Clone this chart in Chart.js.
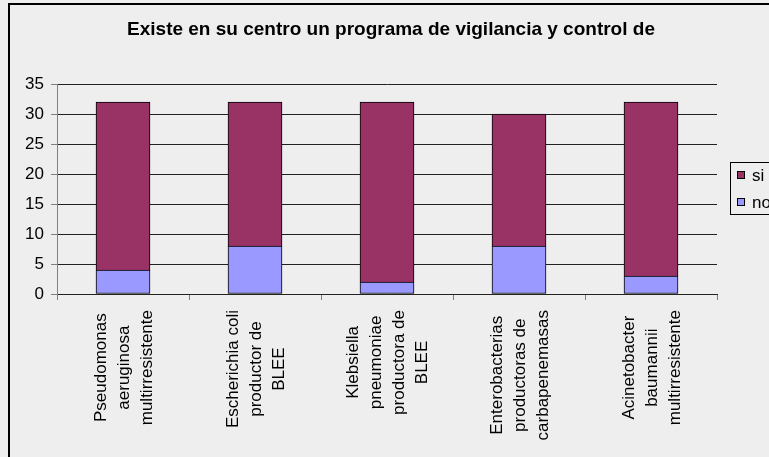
<!DOCTYPE html>
<html>
<head>
<meta charset="utf-8">
<script src="https://cdn.jsdelivr.net/npm/chart.js@4.4.1/dist/chart.umd.min.js"></script>
<style>
  html, body { margin: 0; padding: 0; background: #eeeeee; overflow: hidden; }
  #wrap { width: 769px; height: 457px; }
</style>
</head>
<body>
<div id="wrap"><canvas id="chart"></canvas></div>
<script>
const TITLE = "Existe en su centro un programa de vigilancia y control de";

// categorias (una linea por elemento)
const categories = [
    ["Pseudomonas", "aeruginosa", "multirresistente"],
    ["Escherichia coli", "productor de", "BLEE"],
    ["Klebsiella", "pneumoniae", "productora de", "BLEE"],
    ["Enterobacterias", "productoras de", "carbapenemasas"],
    ["Acinetobacter", "baumannii", "multirresistente"],
];
const noValues = [4, 8, 2, 8, 3];
const siValues = [28, 24, 30, 22, 29];
const yMin = 0, yMax = 35, yStep = 5;

const FONT = "Arial, 'Liberation Sans', sans-serif";

// fondo y marco del grafico
const framePlugin = {
    id: "frame",
    beforeDraw(chart) {
        const ctx = chart.ctx;
        ctx.save();
        ctx.fillStyle = "#eeeeee";
        ctx.fillRect(0, 0, chart.width, chart.height);
        ctx.strokeStyle = "#000";
        ctx.lineWidth = 2;
        ctx.strokeRect(9, 4, chart.width + 20, chart.height + 20);
        ctx.restore();
    },
    afterDraw(chart) {
        const ctx = chart.ctx;
        const x = chart.scales.x;
        ctx.save();

        // titulo
        ctx.fillStyle = "#000";
        ctx.font = "bold 19px " + FONT;
        ctx.textAlign = "center";
        ctx.textBaseline = "middle";
        ctx.fillText(TITLE, 391, 30);

        // etiquetas del eje x, giradas y centradas
        ctx.font = "17px " + FONT;
        const lh = 23, top = 310;
        categories.forEach((lines, i) => {
            const px = x.getPixelForValue(i);
            const maxW = Math.max(...lines.map(l => ctx.measureText(l).width));
            const cy = top + maxW / 2;
            lines.forEach((line, j) => {
                const cx = px + (j - (lines.length - 1) / 2) * lh;
                ctx.save();
                ctx.translate(cx, cy);
                ctx.rotate(-Math.PI / 2);
                ctx.fillText(line, 0, 1);
                ctx.restore();
            });
        });

        // leyenda
        const items = chart.data.datasets.slice().reverse();
        ctx.strokeStyle = "#000";
        ctx.lineWidth = 1;
        ctx.fillStyle = "#eeeeee";
        ctx.fillRect(730.5, 162.5, 60, 52);
        ctx.strokeRect(730.5, 162.5, 60, 52);
        ctx.font = "17px " + FONT;
        ctx.textAlign = "left";
        items.forEach((ds, k) => {
            const cy = 176 + k * 27;
            ctx.fillStyle = ds.backgroundColor;
            ctx.fillRect(737.5, cy - 4.5, 7, 7);
            ctx.strokeRect(737.5, cy - 4.5, 7, 7);
            ctx.fillStyle = "#000";
            ctx.fillText(ds.label, 752, cy);
        });
        ctx.restore();
    },
};

new Chart(document.getElementById("chart"), {
    type: "bar",
    data: {
        labels: categories.map(c => c.join(" ")),
        datasets: [
            {
                label: "no",
                data: noValues,
                backgroundColor: "#9999ff",
                borderColor: "#000",
                borderWidth: 1,
                borderSkipped: false,
            },
            {
                label: "si",
                data: siValues,
                backgroundColor: "#993366",
                borderColor: "#000",
                borderWidth: 1,
                borderSkipped: "start",
            },
        ],
    },
    options: {
        responsive: true,
        maintainAspectRatio: false,
        animation: false,
        layout: { padding: { top: 84, right: 52, left: 0, bottom: 0 } },
        datasets: { bar: { barThickness: 54 } },
        plugins: {
            legend: { display: false },
            title: { display: false },
            tooltip: { enabled: false },
        },
        scales: {
            x: {
                stacked: true,
                ticks: { display: false },
                grid: {
                    offset: true,
                    drawOnChartArea: false,
                    drawTicks: true,
                    tickLength: 6,
                    tickColor: "#808080",
                },
                border: { display: true, color: "#222" },
                afterFit(scale) { scale.height = 163; },
            },
            y: {
                stacked: true,
                min: yMin,
                max: yMax,
                ticks: {
                    stepSize: yStep,
                    color: "#000",
                    font: { family: FONT, size: 17 },
                    padding: 7,
                },
                grid: {
                    color: "#222",
                    tickLength: 6,
                    tickColor: "#808080",
                },
                border: { display: true, color: "#808080" },
                afterFit(scale) { scale.width = 57; },
            },
        },
    },
    plugins: [framePlugin],
});
</script>
</body>
</html>
